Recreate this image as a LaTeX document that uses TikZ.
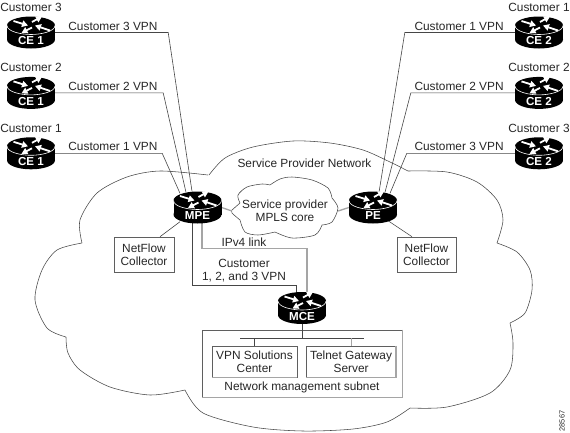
\documentclass[tikz,border=0pt]{standalone}
\usepackage{xcolor}
\usepackage{fontspec}
\setmainfont{Liberation Sans}
\usepackage{tikz}
\usetikzlibrary{arrows.meta,positioning,calc}
\definecolor{wirecol}{RGB}{70,70,70}
\definecolor{linkcol}{RGB}{165,165,165}
\definecolor{boxcol}{RGB}{95,95,95}
\newcommand{\routerbody}[2]{%
  \begin{scope}[shift={(#1.center)}]
    \fill[black] (0,-7) ellipse (24pt and 9pt);
    \fill[black] (0,7) ellipse (24pt and 9pt);
    \fill[black] (-24,-7) rectangle (24,7);
    \draw[white, line width=.6pt] (-24,-7) .. controls (-24,-1) and (-10,2) .. (0,2) .. controls (10,2) and (24,-1) .. (24,-7);
    \draw[rarrow] (-17.5,-11.5) -- (-3,-7);
    \draw[rarrow] (1,-10.5) -- (11,-16);
    \draw[rarrow] (19,-2) -- (4,-7);
    \draw[rarrow] (1,-5) -- (-9.5,.5);
    \node[rlabel] (#1lab) at (0,8.5) {#2};
  \end{scope}}

\begin{document}
\begin{tikzpicture}[x=1pt, y=-1pt, font=\fontsize{11.87}{13.2}\selectfont, >=Latex]
  \tikzset{txt/.style={inner sep=0pt, align=center, text=black!85},wire/.style={draw=wirecol, line width=.6pt},link/.style={draw=linkcol, line width=1.3pt},cloudline/.style={draw=wirecol, line width=.55pt},box/.style={draw=boxcol, line width=.6pt, align=center, inner sep=0pt, text=black!85},router/.style={rectangle, inner sep=0pt, minimum width=48pt, minimum height=32pt},rarrow/.style={white, line width=1.8pt, -{Triangle[length=6pt,width=6.5pt]}},rlabel/.style={inner sep=0pt, text=white, font=\fontsize{11.6}{13}\selectfont\bfseries}}
  \useasboundingbox (0,0) rectangle (570,432);
  \draw[cloudline] plot[smooth] coordinates {(209,175) (225,158) (253,147) (293,141) (330,143) (363,150) (390,162) (408,171)}
    plot[smooth] coordinates {(408,171) (447,172) (477,182) (497,200) (503,220) (497,243)}
    plot[smooth] coordinates {(497,243) (517,252) (530,270) (532,290) (525,313) (510,323)}
    plot[smooth] coordinates {(510,323) (513,343) (510,370) (490,393) (447,407) (410,408)}
    plot[smooth] coordinates {(410,408) (387,422) (353,429) (303,431) (253,427) (203,413) (185,390)}
    plot[smooth] coordinates {(185,390) (150,395) (110,387) (80,370) (68,353) (66,337)}
    plot[smooth] coordinates {(66,337) (47,328) (35,300) (42,270) (57,250) (82,243)}
    plot[smooth] coordinates {(82,243) (80,220) (97,193) (127,177) (160,171) (208,175)};
  \draw[cloudline] plot[smooth] coordinates {(232,210) (240,203)}
    plot[smooth] coordinates {(240,203) (238,195) (247,187) (262,184) (270,185)}
    plot[smooth] coordinates {(270,185) (280,179) (292,177) (312,180) (328,188) (332,198)}
    plot[smooth] coordinates {(332,198) (338,208) (332,222) (322,225)}
    plot[smooth] coordinates {(322,225) (315,235) (292,238) (275,232)}
    plot[smooth] coordinates {(275,232) (258,235) (245,232) (240,220)}
    plot[smooth] coordinates {(240,220) (232,213) (232,210)};
  \node[router] (ce13) at (31,32.5) {};
  \node[router, below=28pt of ce13] (ce12) {};
  \node[router, below=28pt of ce12] (ce11) {};
  \node[router] (ce21) at (539,32.5) {};
  \node[router, below=28pt of ce21] (ce22) {};
  \node[router, below=28pt of ce22] (ce23) {};
  \node[router] (mpe) at (197.5,207.5) {};
  \node[router] (pe) at (373,207.5) {};
  \node[router] (mce) at (302,308) {};
  \node[txt, above=4.5pt of ce13] (cust13) {Customer 3};
  \node[txt, above=4.5pt of ce12] (cust12) {Customer 2};
  \node[txt, above=4.5pt of ce11] (cust11) {Customer 1};
  \node[txt, above=4.5pt of ce21] (cust21) {Customer 1};
  \node[txt, above=4.5pt of ce22] (cust22) {Customer 2};
  \node[txt, above=4.5pt of ce23] (cust23) {Customer 3};
  \node[txt, right=13pt of ce13, yshift=6.5pt] (vpn13) {Customer 3 VPN};
  \node[txt, right=13pt of ce12, yshift=6.5pt] (vpn12) {Customer 2 VPN};
  \node[txt, right=13pt of ce11, yshift=6.5pt] (vpn11) {Customer 1 VPN};
  \node[txt, left=11pt of ce21, yshift=6.5pt] (vpn21) {Customer 1 VPN};
  \node[txt, left=11pt of ce22, yshift=6.5pt] (vpn22) {Customer 2 VPN};
  \node[txt, left=11pt of ce23, yshift=6.5pt] (vpn23) {Customer 3 VPN};
  \node[txt] (spn) at (304.5,163) {Service Provider Network};
  \node[txt, minimum width=106pt] (core) at (285,211) {Service provider\\MPLS core};
  \node[box, minimum width=60pt, minimum height=35pt] (nfl) at (144,254.5) {NetFlow\\Collector};
  \node[box, minimum width=59pt, minimum height=35pt] (nfr) at (426.5,254.5) {NetFlow\\Collector};
  \node[txt] (ipv4) at (244,242) {IPv4 link};
  \node[txt] (cust) at (244,271) {Customer\\1, 2, and 3 VPN};
  \node[box, minimum width=200pt, minimum height=67pt] (subnet) at (302,363.5) {};
  \node[box, minimum width=85pt, minimum height=31pt] (vpnsc) at (254.5,361.5) {VPN Solutions\\Center};
  \node[box, right=9pt of vpnsc, minimum width=89pt, minimum height=31pt] (telnet) {Telnet Gateway\\Server};
  \node[txt, below=18.5pt of subnet.center] (subnetlab) {Network management subnet};
  \node[inner sep=0pt, rotate=90, text=black!85, font=\fontsize{7.4}{8}\selectfont] (figid) at (562,421) {28567};
  \coordinate (busl) at (240,338);
  \coordinate (busr) at (364,338);
  \draw[wire] (ce13.east) -- ++(113,0) -- ($(mpe.north)+(-5.5,0)$);
  \draw[wire] (ce12.east) -- ++(108,0) -- ($(mpe.north)+(-11.5,1)$);
  \draw[wire] (ce11.east) -- ++(107,0) -- ($(mpe.north)+(-17.5,2)$);
  \draw[wire] (ce21.west) -- ++(-110,0) -- ($(pe.north)+(6,1)$);
  \draw[wire] (ce22.west) -- ++(-104,0) -- ($(pe.north)+(12,1)$);
  \draw[wire] (ce23.west) -- ++(-108,0) -- ($(pe.north)+(17,2)$);
  \draw[link] (mpe.east) -- (core.west);
  \draw[link] (core.east) -- (pe.west);
  \draw[wire] ($(mpe.south)+(-17.5,-2)$) -- ($(nfl.north)+(16,0)$);
  \draw[wire] ($(pe.south)+(15,-3)$) -- ($(nfr.north)+(-14.5,0)$);
  \draw[link] ($(mpe.south)+(4.5,-1)$) -- ++(0,26) -| ($(mce.north)+(5,1)$);
  \draw[wire] ($(mpe.south)+(-5.5,-1)$) -- ++(0,63) -| ($(mce.north)+(-6,1)$);
  \draw[wire] (mce.south) -- (mce.south |- busl);
  \draw[wire] (busl) -- (busr);
  \draw[wire] (vpnsc.north) -- (vpnsc.north |- busl);
  \draw[link, line width=.8pt] (telnet.north) -- (telnet.north |- busr);
  \draw[link] (telnet.north east) -- (telnet.south east) -- (telnet.south west);
  \draw[link, line width=.8pt] (vpnsc.south east) -- (vpnsc.south west);
  \draw[link] (subnet.north east) -- (subnet.south east) -- (subnet.south west);
  \foreach \n/\t in {ce13/CE 1,ce12/CE 1,ce11/CE 1,ce21/CE 2,ce22/CE 2,ce23/CE 2,mpe/MPE,pe/PE,mce/MCE}
    \routerbody{\n}{\t};
\end{tikzpicture}
\end{document}
